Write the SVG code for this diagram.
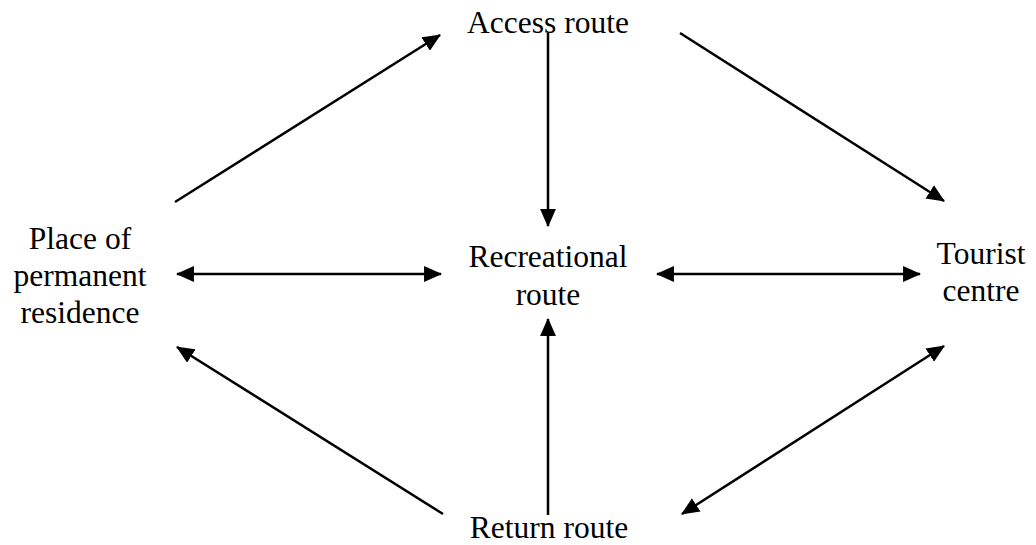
<svg xmlns="http://www.w3.org/2000/svg" width="1036" height="545" viewBox="0 0 1036 545">
<style>
.lbl{font-family:'Times New Roman','Liberation Serif',Tinos,'DejaVu Serif',serif;font-size:31.5px;fill:#000;text-anchor:middle}
.c{stroke:#000;stroke-width:2.5;fill:none}
</style>
<defs>
<marker id="ah" markerUnits="userSpaceOnUse" markerWidth="18" markerHeight="16" viewBox="0 0 17 15" refX="16" refY="7.5" orient="auto-start-reverse">
<path d="M0,0 L17,7.5 L0,15 Z" fill="#000"/>
</marker>
</defs>
<rect width="1036" height="545" fill="#fff"/>
<g id="connectors">
<line class="c" x1="175" y1="202" x2="440" y2="35" marker-end="url(#ah)"/>
<line class="c" x1="548" y1="33" x2="548" y2="226" marker-end="url(#ah)"/>
<line class="c" x1="680" y1="33" x2="944" y2="201" marker-end="url(#ah)"/>
<line class="c" x1="177" y1="274" x2="441" y2="274" marker-start="url(#ah)" marker-end="url(#ah)"/>
<line class="c" x1="657" y1="274" x2="920" y2="274" marker-start="url(#ah)" marker-end="url(#ah)"/>
<line class="c" x1="443" y1="514" x2="177" y2="347" marker-end="url(#ah)"/>
<line class="c" x1="548" y1="515" x2="548" y2="319" marker-end="url(#ah)"/>
<line class="c" x1="682" y1="514" x2="944" y2="346" marker-start="url(#ah)" marker-end="url(#ah)"/>
</g>
<g id="node-access"><text class="lbl" x="548" y="33">Access route</text></g>
<g id="node-residence">
<text class="lbl" x="80" y="249">Place of</text>
<text class="lbl" x="80" y="286">permanent</text>
<text class="lbl" x="80" y="323">residence</text>
</g>
<g id="node-recreational">
<text class="lbl" x="548" y="267">Recreational</text>
<text class="lbl" x="548" y="305">route</text>
</g>
<g id="node-tourist">
<text class="lbl" x="981" y="264">Tourist</text>
<text class="lbl" x="981" y="301">centre</text>
</g>
<g id="node-return"><text class="lbl" x="549" y="538">Return route</text></g>
</svg>
